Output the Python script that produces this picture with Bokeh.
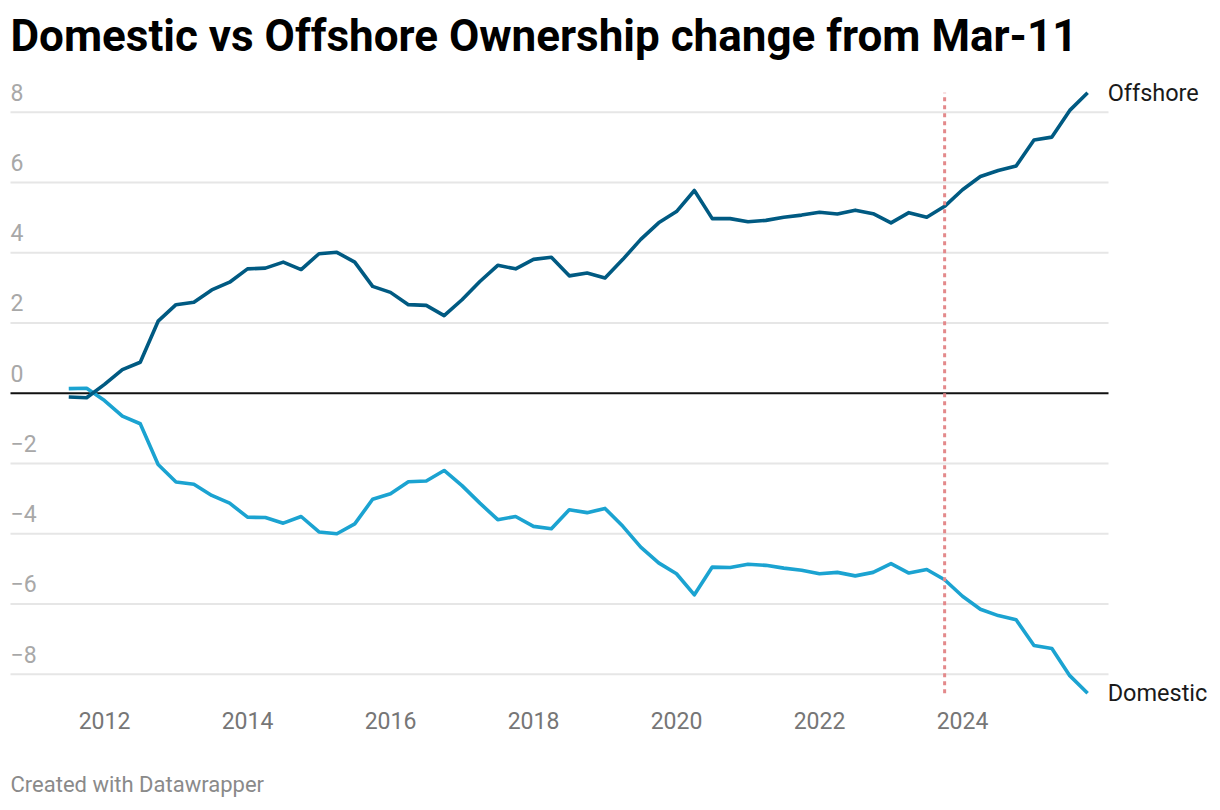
import pandas as pd
from bokeh.plotting import figure
from bokeh.models import Range1d, Label
from bokeh.core.properties import value
from bokeh.embed import file_html
from bokeh.resources import INLINE

# ---------------- data ----------------
quarters = pd.period_range("2011Q2", "2025Q3", freq="Q")
offshore = [-0.11, -0.13, 0.25, 0.67, 0.88, 2.05, 2.52, 2.59, 2.94, 3.16,
            3.54, 3.56, 3.73, 3.52, 3.97, 4.01, 3.73, 3.04, 2.87, 2.52,
            2.50, 2.21, 2.66, 3.18, 3.64, 3.54, 3.81, 3.87, 3.34, 3.42,
            3.28, 3.81, 4.38, 4.85, 5.17, 5.77, 4.97, 4.97, 4.88, 4.92,
            5.01, 5.07, 5.15, 5.10, 5.21, 5.11, 4.85, 5.14, 5.01, 5.32,
            5.79, 6.17, 6.34, 6.47, 7.21, 7.29, 8.05, 8.55]
domestic = [0.13, 0.14, -0.21, -0.65, -0.87, -2.03, -2.53, -2.59, -2.91, -3.13,
            -3.53, -3.54, -3.70, -3.51, -3.95, -4.00, -3.72, -3.02, -2.86, -2.52,
            -2.50, -2.20, -2.63, -3.13, -3.60, -3.51, -3.79, -3.86, -3.32, -3.40,
            -3.28, -3.79, -4.38, -4.83, -5.14, -5.74, -4.95, -4.96, -4.87, -4.90,
            -4.98, -5.04, -5.14, -5.10, -5.20, -5.10, -4.85, -5.12, -5.02, -5.31,
            -5.78, -6.15, -6.33, -6.45, -7.18, -7.27, -8.04, -8.54]
series_names = ["Offshore", "Domestic"]
y_ticks = [8, 6, 4, 2, 0, -2, -4, -6, -8]
y_tick_labels = ["8", "6", "4", "2", "0", "\u22122", "\u22124", "\u22126", "\u22128"]
x_ticks = [2012, 2014, 2016, 2018, 2020, 2022, 2024]
x_tick_labels = ["2012", "2014", "2016", "2018", "2020", "2022", "2024"]
marker_quarter = pd.Period("2023Q3", freq="Q")
title_text = "Domestic vs Offshore Ownership change from Mar-11"
footer_text = "Created with Datawrapper"

# quarter-end positions in fractional years
xq = [q.year + q.quarter * 0.25 for q in quarters]
x_marker = marker_quarter.year + marker_quarter.quarter * 0.25

# ---------------- layout ----------------
W, H = 1218, 808
PX_YEAR = 71.5
PX_UNIT = 35.13
x_start = 2012 - 104 / PX_YEAR
x_end = x_start + W / PX_YEAR
y_end = 392.7 / PX_UNIT
y_start = y_end - H / PX_UNIT
grid_x0 = x_start + 10 / PX_YEAR
grid_x1 = x_start + 1108 / PX_YEAR

OFF_COLOR = "#005a82"
DOM_COLOR = "#1ba3d1"

p = figure(width=W, height=H, x_range=Range1d(x_start, x_end),
           y_range=Range1d(y_start, y_end), x_axis_type=None, y_axis_type=None,
           min_border=0, toolbar_location=None, output_backend="svg")
p.grid.visible = False
p.outline_line_color = None
p.background_fill_color = "white"
p.border_fill_color = "white"

# gridlines
gy = [t for t in y_ticks if t != 0]
p.segment(x0=[grid_x0] * len(gy), x1=[grid_x1] * len(gy), y0=gy, y1=gy,
          line_color="#e6e6e6", line_width=2)
# zero line
p.segment(x0=[grid_x0], x1=[grid_x1], y0=[0], y1=[0], line_color="#111111", line_width=2)

# y tick labels (above gridlines)
p.text(x=[grid_x0] * len(y_ticks), y=y_ticks, text=y_tick_labels,
       text_font=value("Roboto"), text_font_size="23px", text_color="#a8a8a8",
       text_align="left", text_baseline="middle", y_offset=-20)

# x tick labels
p.text(x=x_ticks, y=[min(y_ticks)] * len(x_ticks), text=x_tick_labels,
       text_font=value("Roboto"), text_font_size="23px", text_color="#767676",
       text_align="center", text_baseline="middle", y_offset=46)

# series
p.line(xq, domestic, line_color=DOM_COLOR, line_width=3.6, line_join="round")
p.line(xq, offshore, line_color=OFF_COLOR, line_width=3.6, line_join="round")

# end labels
p.text(x=[xq[-1], xq[-1]], y=[offshore[-1], domestic[-1]], text=series_names,
       text_font=value("Roboto"), text_font_size="23.5px", text_color="#1a1a1a",
       text_align="left", text_baseline="middle", x_offset=20)

# marker line
p.segment(x0=[x_marker], x1=[x_marker], y0=[min(domestic)], y1=[max(offshore)],
          line_color="#e3898b", line_width=3, line_dash="4 4")

# title and footer
p.add_layout(Label(x=10, y=H - 35, x_units="screen", y_units="screen", text=title_text,
                   text_font="Roboto", text_font_style="bold", text_font_size="44px",
                   text_color="#000000", text_baseline="middle"))
p.add_layout(Label(x=10, y=H - 784, x_units="screen", y_units="screen", text=footer_text,
                   text_font="Roboto", text_font_size="22px",
                   text_color="#8a8a8a", text_baseline="middle"))

open("out.html", "w").write(file_html(p, INLINE))
